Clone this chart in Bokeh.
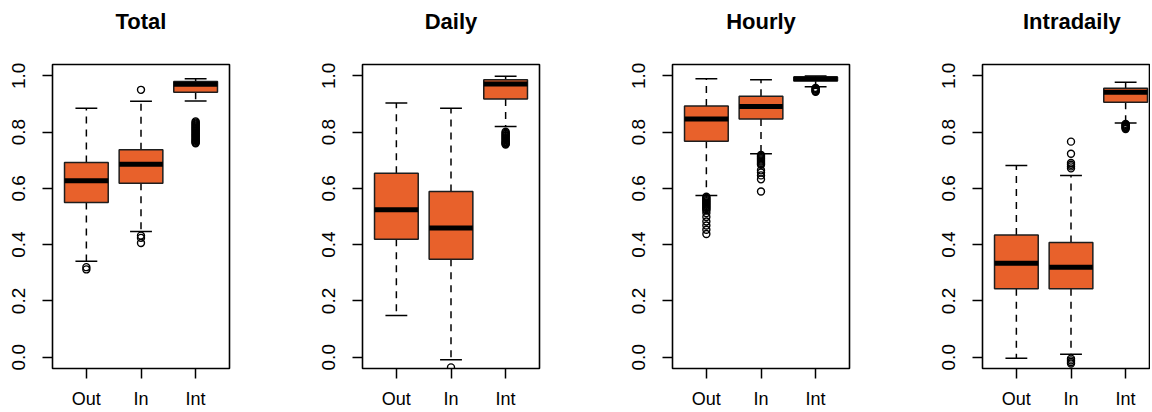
from bokeh.plotting import figure
from bokeh.layouts import row
from bokeh.models import Range1d, FixedTicker, NumeralTickFormatter, Title
from bokeh.embed import file_html
from bokeh.resources import INLINE

panels = ["Total", "Daily", "Hourly", "Intradaily"]
groups = ["Out", "In", "Int"]
y_ticks = [0.0, 0.2, 0.4, 0.6, 0.8, 1.0]

# five-number summaries per panel: [Out, In, Int]
total_lo = [0.341, 0.447, 0.910]
total_q1 = [0.550, 0.618, 0.941]
total_med = [0.627, 0.686, 0.970]
total_q3 = [0.692, 0.737, 0.980]
total_hi = [0.885, 0.909, 0.989]
total_out_out = [0.320, 0.312]
total_out_in = [0.950, 0.432, 0.424, 0.406]
total_out_int = [0.838, 0.834, 0.830, 0.827, 0.823, 0.820, 0.816, 0.813, 0.810, 0.806,
                 0.803, 0.799, 0.796, 0.792, 0.789, 0.786, 0.782, 0.779, 0.775, 0.772,
                 0.769, 0.766, 0.763, 0.760]

daily_lo = [0.148, -0.009, 0.820]
daily_q1 = [0.419, 0.348, 0.917]
daily_med = [0.524, 0.459, 0.971]
daily_q3 = [0.654, 0.589, 0.986]
daily_hi = [0.903, 0.885, 0.998]
daily_out_out = []
daily_out_in = [-0.036]
daily_out_int = [0.801, 0.797, 0.793, 0.789, 0.786, 0.782, 0.778, 0.775, 0.771, 0.767,
                 0.764, 0.761, 0.758, 0.756]

hourly_lo = [0.575, 0.723, 0.961]
hourly_q1 = [0.767, 0.846, 0.981]
hourly_med = [0.846, 0.891, 0.989]
hourly_q3 = [0.893, 0.927, 0.996]
hourly_hi = [0.989, 0.986, 0.999]
hourly_out_out = [0.570, 0.566, 0.562, 0.558, 0.554, 0.550, 0.546, 0.542, 0.538, 0.534,
                  0.530, 0.526, 0.521, 0.512, 0.498, 0.482, 0.468, 0.453, 0.438]
hourly_out_in = [0.719, 0.715, 0.711, 0.707, 0.703, 0.699, 0.695, 0.691, 0.687, 0.684,
                 0.664, 0.656, 0.646, 0.632, 0.589]
hourly_out_int = [0.957, 0.954, 0.951, 0.948, 0.945, 0.943]

intra_lo = [-0.004, 0.011, 0.832]
intra_q1 = [0.243, 0.243, 0.906]
intra_med = [0.334, 0.320, 0.941]
intra_q3 = [0.434, 0.408, 0.956]
intra_hi = [0.681, 0.646, 0.977]
intra_out_out = []
intra_out_in = [0.766, 0.723, 0.690, 0.684, 0.678, 0.671, -0.005, -0.011, -0.017, -0.022]
intra_out_int = [0.829, 0.826, 0.823, 0.820, 0.817, 0.814, 0.811]

stats = {
    "Total": (total_lo, total_q1, total_med, total_q3, total_hi,
              [total_out_out, total_out_in, total_out_int]),
    "Daily": (daily_lo, daily_q1, daily_med, daily_q3, daily_hi,
              [daily_out_out, daily_out_in, daily_out_int]),
    "Hourly": (hourly_lo, hourly_q1, hourly_med, hourly_q3, hourly_hi,
               [hourly_out_out, hourly_out_in, hourly_out_int]),
    "Intradaily": (intra_lo, intra_q1, intra_med, intra_q3, intra_hi,
                   [intra_out_out, intra_out_in, intra_out_int]),
}

FILL = "#E8612B"
FONT = "Liberation Sans"
FRAME_W = 177
PX_PER_UNIT = FRAME_W / 3.24

figs = []
for i, name in enumerate(panels):
    lo, q1, med, q3, hi, outs = stats[name]
    last = (i == len(panels) - 1)
    mbl = 52 if i == 0 else 44
    if last:
        width = 212
        mbr = 0
        frame_w = width - mbl - mbr
        x_end = 0.38 + frame_w / PX_PER_UNIT
    else:
        mbr = 89
        width = mbl + FRAME_W + mbr
        x_end = 3.62
    p = figure(width=width, height=411, output_backend="svg", toolbar_location=None,
               x_range=Range1d(0.38, x_end), y_range=Range1d(-0.04, 1.04),
               min_border_left=mbl, min_border_right=mbr, min_border_top=64,
               min_border_bottom=40)
    p.xgrid.visible = False
    p.ygrid.visible = False
    p.outline_line_color = "black"
    p.outline_line_width = 1.6
    p.background_fill_color = "white"
    p.border_fill_color = "white"

    # spacer between frame and panel title, then the title itself
    p.add_layout(Title(text=" ", text_font_size="2px", standoff=27), "above")
    ttl = Title(text=name, align="center", vertical_align="bottom", standoff=0,
                text_font=FONT, text_font_size="22px", text_font_style="bold",
                text_color="black")
    if last:
        ttl.align = "left"
        ttl.offset = FRAME_W / 2 - 48
    p.add_layout(ttl, "above")

    xs = [1, 2, 3]
    p.xaxis.ticker = FixedTicker(ticks=xs)
    p.xaxis.major_label_overrides = {k: g for k, g in zip(xs, groups)}
    p.yaxis.ticker = FixedTicker(ticks=y_ticks)
    p.yaxis.formatter = NumeralTickFormatter(format="0.0")
    p.yaxis.major_label_orientation = "vertical"
    for ax, fs, so in ((p.xaxis, "18px", 10), (p.yaxis, "19px", 17)):
        ax.axis_line_color = None
        ax.major_tick_line_color = "black"
        ax.major_tick_line_width = 1.5
        ax.major_tick_out = 10
        ax.major_tick_in = 0
        ax.minor_tick_line_color = None
        ax.major_label_text_font = FONT
        ax.major_label_text_font_size = fs
        ax.major_label_text_color = "black"
        ax.major_label_standoff = so

    left = [x - 0.4 for x in xs]
    right = [x + 0.4 for x in xs]
    cl = [x - 0.2 for x in xs]
    cr = [x + 0.2 for x in xs]

    # whiskers
    p.segment(x0=xs, x1=xs, y0=q3, y1=hi, line_color="black", line_width=1.5,
              line_dash="7 6")
    p.segment(x0=xs, x1=xs, y0=q1, y1=lo, line_color="black", line_width=1.5,
              line_dash="7 6")
    # caps
    p.segment(x0=cl, x1=cr, y0=hi, y1=hi, line_color="black", line_width=1.5)
    p.segment(x0=cl, x1=cr, y0=lo, y1=lo, line_color="black", line_width=1.5)
    # boxes
    p.quad(left=left, right=right, bottom=q1, top=q3, fill_color=FILL,
           line_color="#1e1e1e", line_width=1.5)
    # medians
    p.segment(x0=left, x1=right, y0=med, y1=med, line_color="black", line_width=5)
    # outliers
    ox, oy = [], []
    for x, vals in zip(xs, outs):
        ox += [x] * len(vals)
        oy += vals
    p.scatter(x=ox, y=oy, marker="circle", size=7, fill_color=None,
              line_color="black", line_width=1.4)
    figs.append(p)

layout = row(*figs)
open("out.html", "w").write(file_html(layout, INLINE))
